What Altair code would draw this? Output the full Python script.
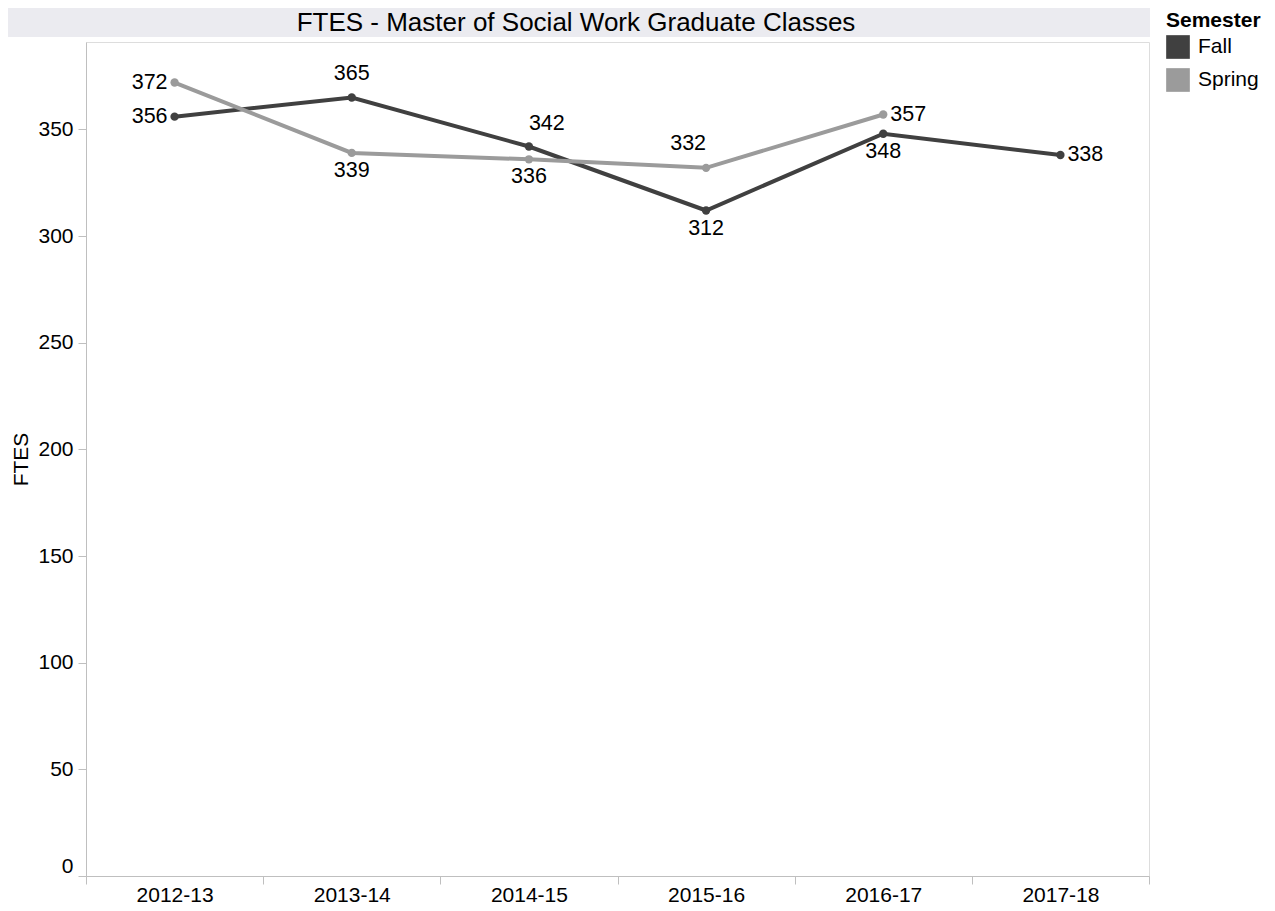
import altair as alt
import pandas as pd

years = ["2012-13", "2013-14", "2014-15", "2015-16", "2016-17", "2017-18"]
fall = [356, 365, 342, 312, 348, 338]
spring = [372, 339, 336, 332, 357]
semesters = ["Fall", "Spring"]
colors = ["#404040", "#9b9b9b"]
title_text = "FTES - Master of Social Work Graduate Classes"

rows = []
for y, v in zip(years, fall):
    rows.append({"Year": y, "Semester": "Fall", "FTES": v})
for y, v in zip(years, spring):
    rows.append({"Year": y, "Semester": "Spring", "FTES": v})
df = pd.DataFrame(rows)

# label placement (styling only)
placement = {
    ("Fall", "2012-13"): "left", ("Fall", "2013-14"): "above",
    ("Fall", "2014-15"): "aboveright", ("Fall", "2015-16"): "below",
    ("Fall", "2016-17"): "below", ("Fall", "2017-18"): "right",
    ("Spring", "2012-13"): "left", ("Spring", "2013-14"): "below",
    ("Spring", "2014-15"): "below", ("Spring", "2015-16"): "aboveleft",
    ("Spring", "2016-17"): "right",
}
df["pos"] = [placement[(s, y)] for s, y in zip(df["Semester"], df["Year"])]

FONT = "Liberation Sans"
W, H = 1063, 834
FS = 21

x_enc = alt.X("Year:N", sort=years, title=None,
              axis=alt.Axis(labelAngle=0, tickBand="extent", tickSize=8,
                            labelPadding=0, labelFontSize=FS, labelColor="black",
                            domainColor="#bfbfbf", tickColor="#bfbfbf", labelFont=FONT))
y_enc = alt.Y("FTES:Q", scale=alt.Scale(domain=[0, 391], nice=False, zero=True),
              axis=alt.Axis(values=[0, 50, 100, 150, 200, 250, 300, 350], grid=False,
                            tickSize=8, labelPadding=5, labelFontSize=FS, labelColor="black",
                            labelFlush=True, title="FTES", titleFontSize=FS,
                            titleFontWeight="normal", titleColor="black",
                            titleX=-65, titleY=H / 2, titleAngle=-90,
                            titleBaseline="middle", titleAlign="center",
                            domainColor="#bfbfbf", tickColor="#bfbfbf", labelFont=FONT,
                            titleFont=FONT))
legend = alt.Legend(title="Semester", orient="none", legendX=1080,
                    legendY=-32, symbolType="square", symbolSize=560,
                    symbolStrokeWidth=0, rowPadding=9, labelOffset=8,
                    titleFontSize=FS, titleFontWeight="bold",
                    labelFontSize=FS, titleFont=FONT, labelFont=FONT,
                    titleColor="black", labelColor="black", titlePadding=4,
                    symbolFillColor="#404040", symbolOpacity=1)
color_enc = alt.Color("Semester:N", scale=alt.Scale(domain=semesters, range=colors),
                      legend=legend)

base = alt.Chart(df)

lines = base.mark_line(strokeWidth=4).encode(
    x=x_enc, y=y_enc, color=color_enc, detail="Semester:N",
)
points = base.mark_circle(size=70, opacity=1).encode(
    x=x_enc, y=y_enc, color=color_enc,
)

specs = {
    "left": dict(align="right", baseline="middle", dx=-7, dy=0),
    "right": dict(align="left", baseline="middle", dx=7, dy=0),
    "above": dict(align="center", baseline="middle", dx=0, dy=-23),
    "below": dict(align="center", baseline="middle", dx=0, dy=18),
    "aboveright": dict(align="left", baseline="middle", dx=0, dy=-23),
    "aboveleft": dict(align="right", baseline="middle", dx=0, dy=-24),
}
texts = []
for name, sp in specs.items():
    texts.append(
        base.transform_filter(alt.datum.pos == name)
        .mark_text(fontSize=21.5, font=FONT, color="black", **sp)
        .encode(x=x_enc, y=y_enc, text="FTES:Q")
    )

tdf = pd.DataFrame({"t": [title_text]})
title_bar = alt.Chart(tdf).mark_rect(color="#ebebf0").encode(
    x=alt.value(-84), x2=alt.value(W + 1), y=alt.value(-34), y2=alt.value(-5)
)
title_txt = alt.Chart(tdf).mark_text(fontSize=26, font=FONT, color="black",
                                      align="center", baseline="middle").encode(
    x=alt.value(490), y=alt.value(-19), text="t:N"
)

chart = alt.layer(title_bar, title_txt, lines, points, *texts).properties(
    width=W, height=H,
    autosize=alt.AutoSizeParams(type="none"),
    padding={"left": 78, "top": 34, "right": 118, "bottom": 32},
).configure_view(stroke="#bfbfbf", strokeWidth=1).configure(background="white")

chart.save("out.html", embed_options={"renderer": "svg", "actions": False})
